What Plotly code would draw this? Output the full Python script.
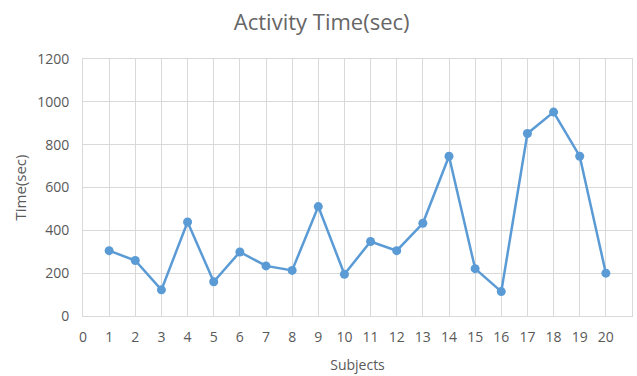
import plotly.graph_objects as go

# Activity time per subject
subjects = list(range(1, 21))
times = [305, 259, 122, 439, 160, 299, 234, 213, 511, 195,
         348, 305, 433, 746, 221, 114, 852, 952, 746, 200]

x_ticks = list(range(0, 22))
y_ticks = [0, 200, 400, 600, 800, 1000, 1200]

font_family = "Open Sans, Liberation Sans, sans-serif"
text_grey = "#595959"
grid_grey = "#d9d9d9"

fig = go.Figure(
    go.Scatter(
        x=subjects,
        y=times,
        mode="lines+markers",
        line=dict(color="#5B9BD5", width=2.5),
        marker=dict(color="#5B9BD5", size=9),
        showlegend=False,
    )
)

fig.update_layout(
    width=637,
    height=376,
    margin=dict(l=83, r=5, t=59, b=60),
    paper_bgcolor="white",
    plot_bgcolor="white",
    title=dict(
        text="Activity Time(sec)",
        x=0.505,
        xanchor="center",
        y=0.94,
        yanchor="middle",
        font=dict(family=font_family, size=22, color="#666666"),
    ),
    font=dict(family=font_family, color=text_grey),
)

fig.update_xaxes(
    range=[0, 21],
    automargin=False,
    tickmode="array",
    tickvals=x_ticks,
    ticktext=[str(v) for v in x_ticks],
    showgrid=True,
    gridcolor=grid_grey,
    gridwidth=1,
    zeroline=False,
    showline=True,
    linecolor=grid_grey,
    mirror=True,
    ticks="",
    ticklabelstandoff=8,
    tickfont=dict(size=14, color=text_grey),
    title=dict(text="Subjects", font=dict(size=14, color=text_grey), standoff=15),
)

fig.update_yaxes(
    range=[0, 1200],
    automargin=False,
    tickmode="array",
    tickvals=y_ticks,
    showgrid=True,
    gridcolor=grid_grey,
    gridwidth=1,
    zeroline=False,
    showline=True,
    linecolor=grid_grey,
    mirror=True,
    ticks="",
    ticklabelstandoff=10,
    tickfont=dict(size=14, color=text_grey),
    title=dict(text="Time(sec)", font=dict(size=15, color=text_grey), standoff=6),
)

fig.write_html("out.html")
